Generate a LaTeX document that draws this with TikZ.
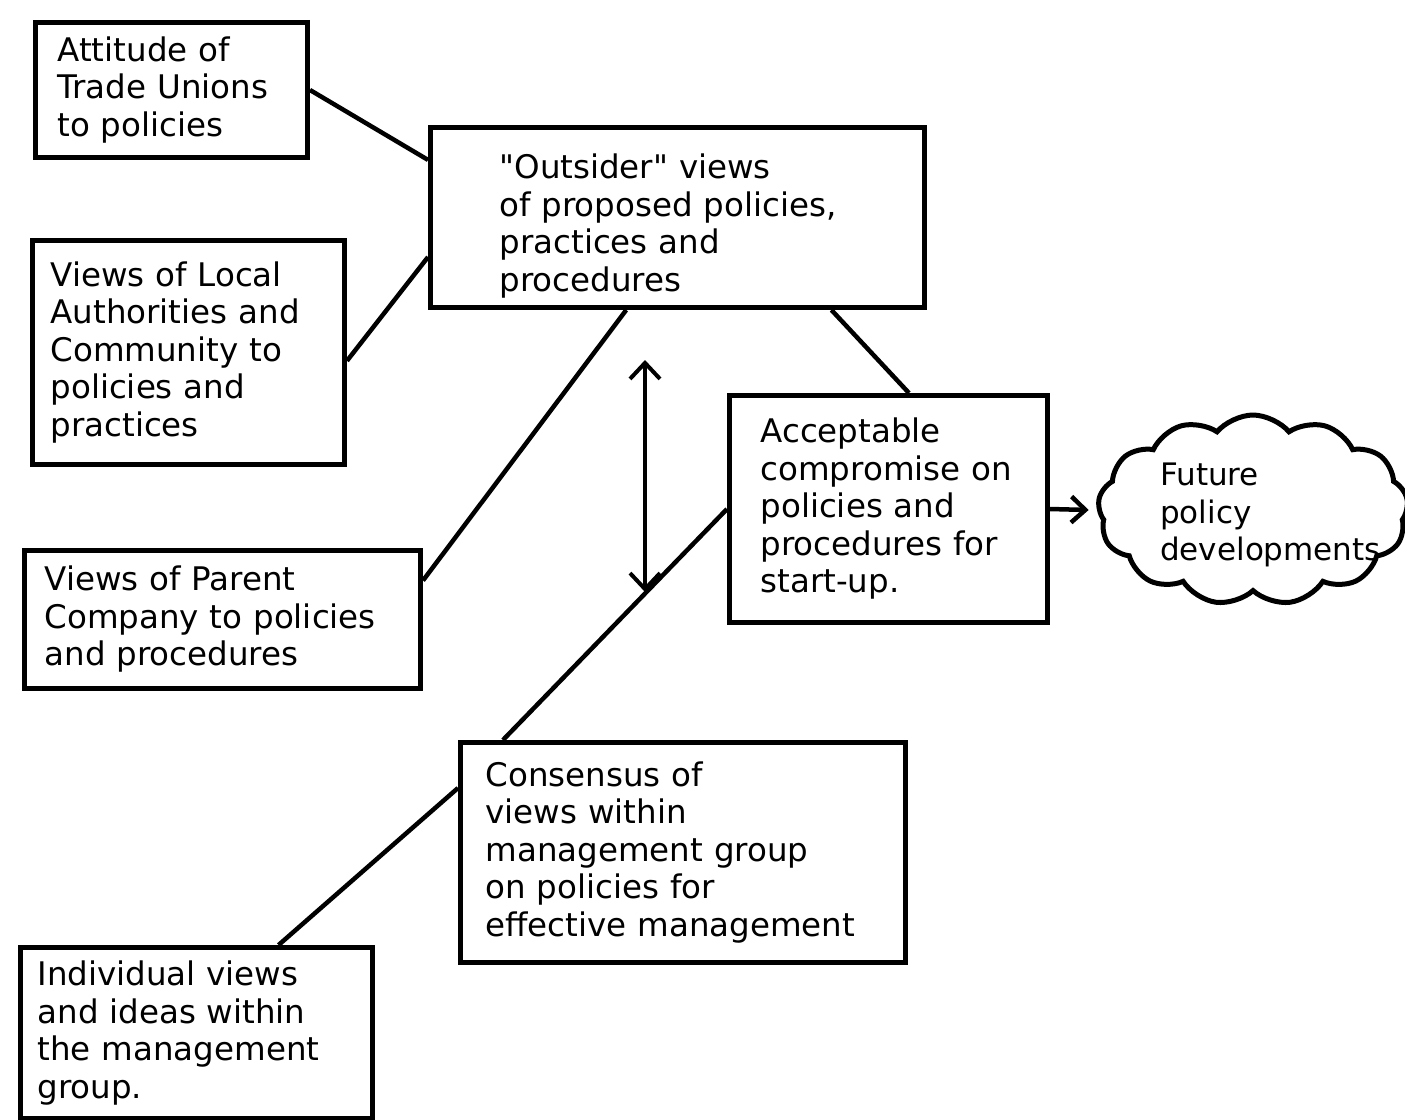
\documentclass[tikz,border=0pt]{standalone}
\usepackage{fontspec}
\setmainfont{DejaVu Sans}
\usetikzlibrary{shapes.symbols, arrows.meta, positioning}

\begin{document}
\begin{tikzpicture}[x=1pt, y=-1pt,
  viewbox/.style={draw, rectangle, line width=5pt, anchor=north west, align=left, inner ysep=0pt, font=\fontsize{32.5}{37.5}\selectfont},
  link/.style={line width=4.5pt},
  chevron/.style={-{Straight Barb[length=14pt, width=26pt, line width=4.5pt]}}]
  \useasboundingbox (0,0) rectangle (1405,1119);

  % Nodes
  \node[viewbox, minimum width=272pt, minimum height=135pt, text width=228pt, inner xsep=22pt] (unions) at (33,20) {Attitude of\\Trade Unions\\to policies};
  \node[viewbox, minimum width=494pt, minimum height=180pt, text width=356pt, inner xsep=69pt] (outsider) at (428,125) {\rule{0pt}{42pt}\textquotedbl Outsider\textquotedbl\ views\\of proposed policies,\\practices and\\procedures};
  \node[viewbox, minimum width=312pt, minimum height=224pt, text width=276pt, inner xsep=18pt] (local) at (30,238) {Views of Local\\Authorities and\\Community to\\policies and\\practices};
  \node[viewbox, minimum width=396pt, minimum height=138pt, text width=356pt, inner xsep=20pt] (parent) at (22,548) {Views of Parent\\Company to policies\\and procedures};
  \node[viewbox, minimum width=318pt, minimum height=227pt, text width=256pt, inner xsep=31pt] (accept) at (727,393) {Acceptable\\compromise on\\policies and\\procedures for\\start-up.};
  \node[viewbox, minimum width=445pt, minimum height=220pt, text width=395pt, inner xsep=25pt] (consensus) at (458,740) {Consensus of\\views within\\management group\\on policies for\\effective management};
  \node[viewbox, minimum width=352pt, minimum height=171pt, text width=318pt, inner xsep=17pt] (indiv) at (18,945) {Individual views\\and ideas within\\the management\\group.};
  \node[draw, cloud, cloud puffs=13, cloud puff arc=100, cloud ignores aspect, line width=5pt, minimum width=310pt, minimum height=190pt, inner sep=0pt] (future) at (1253,510) {};
  \node[anchor=west, align=left, inner sep=0pt, font=\fontsize{31}{37.5}\selectfont] (futuretext) at ([xshift=-93pt, yshift=-5pt]future.center) {Future\\policy\\developments};
  \coordinate (uptip) at (645,360);
  \coordinate (downtip) at (645,592);

  % Connectors
  \draw[link] (unions.east) -- (outsider.167);
  \draw[link] (local.-3) -- (outsider.189);
  \draw[link] (parent.11) -- (outsider.241);
  \draw[link] (outsider.329) -- (accept.80);
  \draw[link] (accept.west) -- (consensus.148);
  \draw[link] (consensus.164) -- (indiv.47);
  \draw[link, chevron] (accept.east) -- ([xshift=-8pt]future.west);
  \draw[line width=3.5pt, {Straight Barb[length=16pt, width=30pt, line width=4pt]}-{Straight Barb[length=16pt, width=30pt, line width=4pt]}] (uptip) -- (downtip);
\end{tikzpicture}
\end{document}
